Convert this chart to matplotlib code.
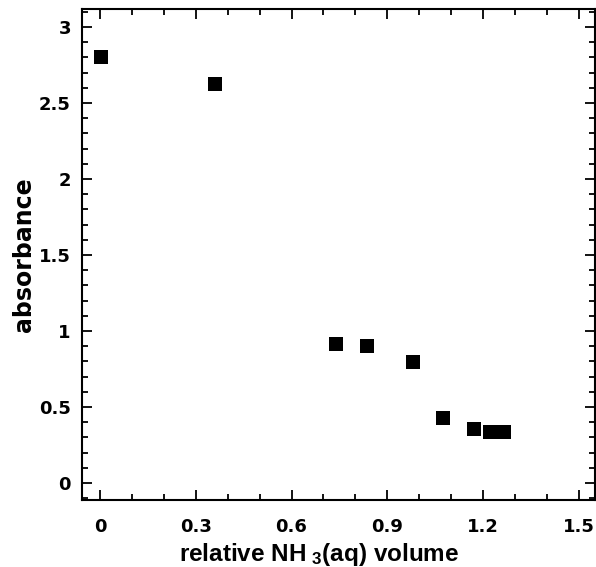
import matplotlib
matplotlib.use("Agg")
import matplotlib.pyplot as plt
from matplotlib.ticker import MultipleLocator

volume = [0.005, 0.36, 0.74, 0.835, 0.98, 1.075, 1.17, 1.22, 1.265]
absorbance = [2.80, 2.625, 0.915, 0.90, 0.795, 0.425, 0.355, 0.335, 0.335]
xticks = [0, 0.3, 0.6, 0.9, 1.2, 1.5]
xticklabels = ["0", "0.3", "0.6", "0.9", "1.2", "1.5"]
yticks = [0, 0.5, 1, 1.5, 2, 2.5, 3]
yticklabels = ["0", "0.5", "1", "1.5", "2", "2.5", "3"]

plt.rcParams['font.family'] = ['DejaVu Sans']
plt.rcParams['font.weight'] = 'bold'
plt.rcParams['mathtext.fontset'] = 'custom'
plt.rcParams['mathtext.bf'] = 'Liberation Sans:bold'
plt.rcParams['mathtext.rm'] = 'Liberation Sans:bold'
plt.rcParams['mathtext.default'] = 'bf'

fig = plt.figure(figsize=(5.96, 5.67), dpi=100)
ax = fig.add_axes([82/596, 1-500/567, (595-82)/596, (500-9)/567])
ax.plot(volume, absorbance, 's', color='black', markersize=10, markeredgewidth=0)
ax.set_xlim(-0.056, 1.55)
ax.set_ylim(-0.112, 3.118)
ax.set_xticks(xticks)
ax.set_xticklabels(xticklabels)
ax.set_yticks(yticks)
ax.set_yticklabels(yticklabels)
ax.xaxis.set_minor_locator(MultipleLocator(0.1))
ax.yaxis.set_minor_locator(MultipleLocator(0.1))
ax.tick_params(which='both', direction='in', top=True, right=True, width=1.3,
               labelsize=13, colors='black')
ax.tick_params(which='major', length=7)
ax.tick_params(axis='x', which='major', pad=13)
ax.tick_params(axis='y', which='major', pad=8)
ax.tick_params(which='minor', length=4)
for lab in ax.get_xticklabels() + ax.get_yticklabels():
    lab.set_fontweight('bold')
for s in ax.spines.values():
    s.set_linewidth(1.5)
ax.set_xlabel("relative NH$_{\\ 3}$(aq) volume", fontsize=17.5, fontweight='bold',
              family='Liberation Sans')
ax.xaxis.set_label_coords(0.462, -0.083)
ax.set_ylabel("absorbance", fontsize=17, fontweight='bold', labelpad=2)
fig.savefig("out.png", dpi=100)
